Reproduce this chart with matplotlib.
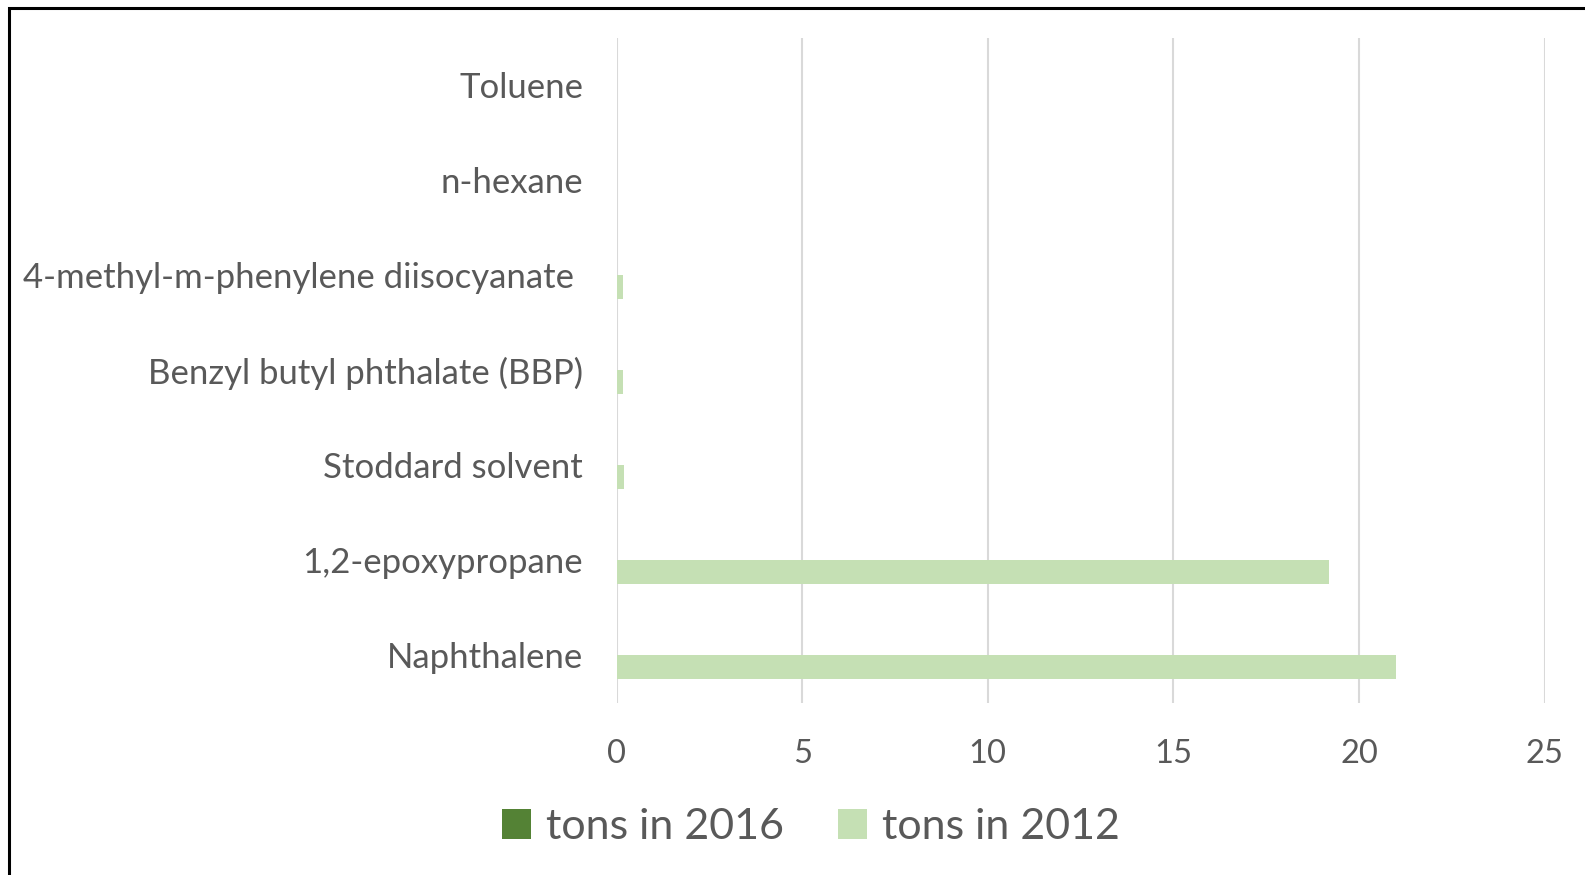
import matplotlib.pyplot as plt
import matplotlib.patches as mpatches
import numpy as np

# dados
chemicals = ["Naphthalene", "1,2-epoxypropane", "Stoddard solvent",
             "Benzyl butyl phthalate (BBP)", "4-methyl-m-phenylene diisocyanate ",
             "n-hexane", "Toluene"]
tons_2016 = [0, 0, 0, 0, 0, 0, 0]
tons_2012 = [21.0, 19.2, 0.21, 0.16, 0.16, 0.02, 0]

c2016 = "#548235"
c2012 = "#c5e0b4"
txt = "#595959"

plt.rcParams['font.family'] = ['Lato', 'DejaVu Sans']

fig = plt.figure(figsize=(15.85, 8.75), dpi=100)
ax = fig.add_axes([0.389, 0.197, 0.5855, 0.76])

y = np.arange(len(chemicals))
h = 0.255
ax.barh(y + h / 2, tons_2016, height=h, color=c2016, label="tons in 2016")
ax.barh(y - h / 2, tons_2012, height=h, color=c2012, label="tons in 2012")

ax.set_xlim(0, 25)
ax.set_ylim(-0.5, len(chemicals) - 0.5)
ax.set_xticks([0, 5, 10, 15, 20, 25])
ax.set_yticks(y)
ax.set_yticklabels(chemicals)
ax.tick_params(axis='both', length=0, colors=txt)
ax.tick_params(axis='y', pad=24, labelsize=25)
ax.tick_params(axis='x', pad=26, labelsize=23.5)
ax.grid(axis='x', color="#d9d9d9", linewidth=1.5)
ax.set_axisbelow(True)
for s in ax.spines.values():
    s.set_visible(False)

# legenda
ax.legend(loc='center', bbox_to_anchor=(0.5115, 0.055), bbox_transform=fig.transFigure,
          ncol=2, frameon=False, fontsize=31, labelcolor=txt,
          handlelength=0.68, handleheight=0.68, handletextpad=0.35, columnspacing=1.25)

# moldura
fig.patches.append(mpatches.Rectangle((9 / 1585, -0.1), 1.2, 1.1 - 7.5 / 875,
                                      transform=fig.transFigure, fill=False,
                                      edgecolor='black', linewidth=2.2))

fig.savefig("out.png", dpi=100)
